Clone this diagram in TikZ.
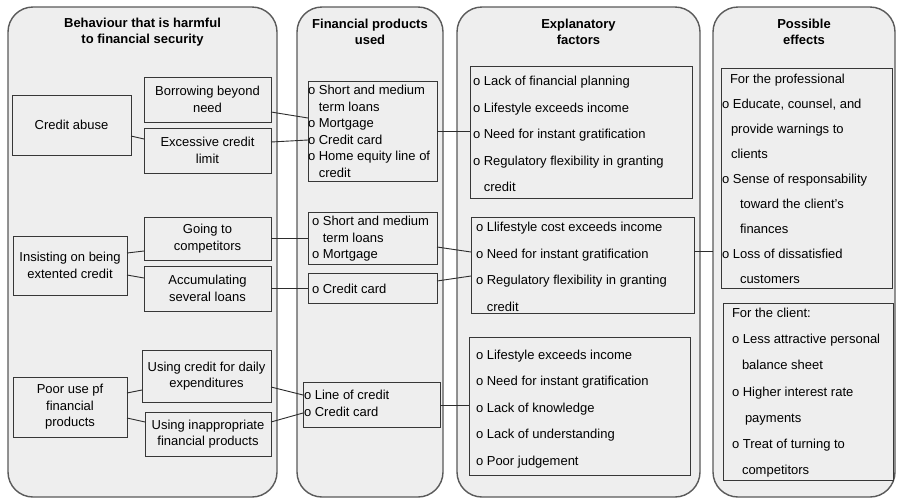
\documentclass[tikz,border=0pt]{standalone}
\usepackage{fontspec}
\setmainfont{Liberation Sans}
\definecolor{colfill}{RGB}{238,238,238}
\definecolor{colborder}{RGB}{90,90,90}
\definecolor{boxborder}{RGB}{55,55,55}
\definecolor{linkcol}{RGB}{45,45,45}

% Place a list of text lines starting at a baseline, one line every #4 points
\newcommand\itemlist[5]{%
  \foreach \linetext [count=\k] in {#5}{%
    \node[txt, anchor=base west] (#1-\k) at (#2, {#3+(\k-1)*#4}) {\linetext};
  }%
}

\begin{document}
\begin{tikzpicture}[x=1pt, y=-1pt,
  every node/.style={inner sep=0pt, outer sep=0pt},
  txt/.style={font=\fontsize{13}{16.5}\selectfont, text=black},
  column/.style={draw=colborder, fill=colfill, line width=1.4pt, rounded corners=25pt},
  header/.style={font=\fontsize{13}{16}\selectfont\bfseries, align=center},
  box/.style={draw=boxborder, fill=colfill, line width=1pt, txt, align=center},
  listbox/.style={draw=boxborder, fill=colfill, line width=1pt},
  link/.style={draw=linkcol, line width=0.9pt}]
\useasboundingbox (0,0) rectangle (897,499);
\fill[white] (0,0) rectangle (897,499);

% the four columns
\node[column, minimum width=269pt, minimum height=490pt] (c1) at (142.5,252) {};
\node[column, minimum width=146pt, minimum height=490pt] (c2) at (370,252) {};
\node[column, minimum width=243pt, minimum height=490pt] (c3) at (578.5,252) {};
\node[column, minimum width=182pt, minimum height=490pt] (c4) at (804,252) {};

\node[header] (h1) at (142.5,32) {Behaviour that is harmful\\to financial security};
\node[header] (h2) at (370,32) {Financial products\\used};
\node[header] (h3) at (578.5,32) {Explanatory\\factors};
\node[header] (h4) at (804,32) {Possible\\effects};

% behaviour
\node[box, minimum width=119pt, minimum height=60pt] (ca) at (71.5,125) {Credit abuse};
\node[box, minimum width=127pt, minimum height=45pt] (bb) at (207.5,99.5) {Borrowing beyond\\need};
\node[box, minimum width=127pt, minimum height=45pt] (ec) at (207.5,150.5) {Excessive credit\\limit};
\node[box, minimum width=114pt, minimum height=59pt] (ie) at (70,265.5) {Insisting on being\\extented credit};
\node[box, minimum width=127pt, minimum height=43pt] (gc) at (207.5,238.5) {Going to\\competitors};
\node[box, minimum width=127pt, minimum height=45pt] (al) at (207.5,288.5) {Accumulating\\several loans};
\node[box, minimum width=114pt, minimum height=60pt] (pu) at (70,407) {Poor use pf\\financial\\products};
\node[box, minimum width=129pt, minimum height=52pt] (ud) at (206.5,376) {Using credit for daily\\expenditures};
\node[box, minimum width=126pt, minimum height=44pt] (ui) at (208,434) {Using inappropriate\\financial products};

% financial products
\node[listbox, minimum width=129pt, minimum height=100pt] (pa) at (372.5,131) {};
\node[listbox, minimum width=129pt, minimum height=52pt] (pb) at (372.5,238) {};
\node[listbox, minimum width=129pt, minimum height=30pt] (pc) at (372.5,288) {};
\node[listbox, minimum width=137pt, minimum height=45pt] (pd) at (371.5,404.5) {};
\itemlist{pa}{308}{94.5}{16.5}{o Short and medium,\hphantom{o }term loans,o Mortgage,o Credit card,o Home equity line of,\hphantom{o }credit}
\itemlist{pb}{312}{225.5}{16.5}{o Short and medium,\hphantom{o }term loans,o Mortgage}
\itemlist{pc}{312}{293.5}{16.5}{o Credit card}
\itemlist{pd}{304}{399.5}{16.5}{o Line of credit,o Credit card}

% explanatory factors
\node[listbox, minimum width=222pt, minimum height=132pt] (fa) at (581,132) {};
\node[listbox, minimum width=223pt, minimum height=96pt] (fb) at (582.5,265) {};
\node[listbox, minimum width=221pt, minimum height=138pt] (fc) at (579.5,406) {};
\itemlist{fa}{473}{85.5}{26.5}{o Lack of financial planning,o Lifestyle exceeds income,o Need for instant gratification,o Regulatory flexibility in granting,\hphantom{o }credit}
\itemlist{fb}{476}{231.5}{26.5}{o Llifestyle cost exceeds income,o Need for instant gratification,o Regulatory flexibility in granting,\hphantom{o }credit}
\itemlist{fc}{476}{359.5}{26.4}{o Lifestyle exceeds income,o Need for instant gratification,o Lack of knowledge,o Lack of understanding,o Poor judgement}

% possible effects
\node[listbox, minimum width=171pt, minimum height=220pt] (ea) at (806.5,178) {};
\node[listbox, minimum width=170pt, minimum height=177pt] (eb) at (808,391.5) {};
\itemlist{ea}{722}{83}{25.1}{\hspace*{8pt}For the professional,{o Educate, counsel, and},\hspace*{9pt}provide warnings to,\hspace*{9pt}clients,o Sense of responsability,\hspace*{18pt}toward the client's,\hspace*{18pt}finances,o Loss of dissatisfied,\hspace*{18pt}customers}
\itemlist{eb}{732}{317.5}{26.2}{For the client:,o Less attractive personal,\hspace*{10pt}balance sheet,o Higher interest rate,\hspace*{13pt}payments,o Treat of turning to,\hspace*{10pt}competitors}

% connectors
\draw[link] (ca.east |- 0,136) -- (ec.west |- 0,139);
\draw[link] (ie.east |- 0,253) -- (gc.west |- 0,251);
\draw[link] (ie.east |- 0,275) -- (al.west |- 0,278);
\draw[link] (pu.east |- 0,393) -- (ud.west |- 0,390);
\draw[link] (pu.east |- 0,418) -- (ui.west |- 0,422);

\draw[link] (bb.east |- 0,112) -- (pa.west |- 0,118);
\draw[link] (ec.east |- 0,142) -- (pa.west |- 0,140);
\draw[link] (gc.east |- 0,238) -- (pb.west |- 0,238);
\draw[link] (al.east |- 0,288) -- (pc.west |- 0,288);
\draw[link] (ud.east |- 0,387) -- (pd.west |- 0,395);
\draw[link] (ui.east |- 0,422) -- (pd.west |- 0,413);

\draw[link] (pa.east |- 0,131) -- (fa.west |- 0,131);
\draw[link] (pb.east |- 0,247) -- (fb.west |- 0,252);
\draw[link] (pc.east |- 0,281) -- (fb.west |- 0,276);
\draw[link] (pd.east |- 0,405) -- (fc.west |- 0,405);

\draw[link] (fb.east |- 0,251) -- (c4.west |- 0,251);
\end{tikzpicture}
\end{document}
